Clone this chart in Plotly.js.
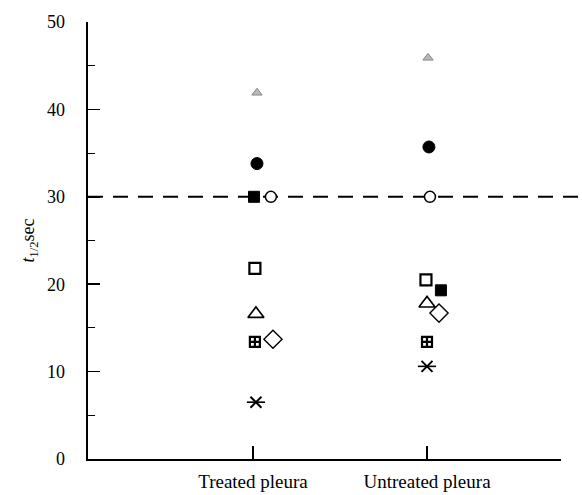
<!DOCTYPE html>
<html>
<head>
<meta charset="utf-8">
<script src="https://cdn.plot.ly/plotly-3.0.1.min.js"></script>
<style>
  html, body { margin: 0; padding: 0; background: #fff; }
  #chart { width: 582px; height: 495px; }
</style>
</head>
<body>
<div id="chart"></div>
<script>
// Half-time (t1/2, seconds) per subject, treated vs untreated pleura
const categories = ['Treated pleura', 'Untreated pleura'];
const greyTriangle = [41.9, 45.9];
const filledCircle = [33.8, 35.7];
const filledSquare = [30.0, 19.3];
const openCircle   = [30.0, 30.0];
const openSquare   = [21.8, 20.5];
const openTriangle = [16.6, 17.8];
const crossSquare  = [13.4, 13.4];
const openDiamond  = [13.7, 16.7];
const asterisk     = [6.5, 10.6];
const yTicks = [0, 10, 20, 30, 40, 50];
const threshold = 30;

// Marker styling, with a small horizontal dodge so overlapping symbols stay visible
const series = [
  { y: greyTriangle, dodge: [0.023, 0.006], symbol: 'triangle-up', size: 9, fill: '#b8b8b8', line: '#888', lw: 1 },
  { y: filledCircle, dodge: [0.023, 0.011], symbol: 'circle', size: 12, fill: '#000', line: '#000', lw: 1 },
  { y: filledSquare, dodge: [0.006, 0.080], symbol: 'square', size: 11, fill: '#000', line: '#000', lw: 1 },
  { y: openCircle,   dodge: [0.103, 0.017], symbol: 'circle', size: 11, fill: '#fff', line: '#000', lw: 1.5 },
  { y: openSquare,   dodge: [0.011, -0.006], symbol: 'square', size: 11, fill: '#fff', line: '#000', lw: 2.2 },
  { y: openTriangle, dodge: [0.017, 0.000], symbol: 'triangle-up', size: 14, fill: '#fff', line: '#000', lw: 1.6 },
  { y: crossSquare,  dodge: [0.011, 0.000], symbol: 'square-cross-open', size: 10, fill: '#000', line: '#000', lw: 2.2 },
  { y: openDiamond,  dodge: [0.115, 0.069], symbol: 'diamond', size: 14, fill: '#fff', line: '#000', lw: 1.4 },
  { y: asterisk,     dodge: [0.017, 0.000], symbol: 'x-thin-open', size: 11, fill: '#000', line: '#000', lw: 2 },
  { y: asterisk,     dodge: [0.017, 0.000], symbol: 'line-ew-open', size: 13, fill: '#000', line: '#000', lw: 1.6 }
];

const traces = series.map(s => ({
  type: 'scatter',
  mode: 'markers',
  x: s.y.map((_, i) => i + 1 + s.dodge[i]),
  y: s.y,
  showlegend: false,
  hoverinfo: 'y',
  cliponaxis: false,
  marker: {
    symbol: s.symbol,
    size: s.size,
    color: s.fill,
    line: { color: s.line, width: s.lw }
  }
}));

const serif = 'Liberation Serif, Times New Roman, serif';

const layout = {
  width: 582,
  height: 495,
  margin: { l: 88, r: 21, t: 22, b: 36 },
  paper_bgcolor: '#fff',
  plot_bgcolor: '#fff',
  font: { family: serif, color: '#000', size: 17 },
  xaxis: {
    range: [0.052, 2.77],
    tickvals: categories.map((_, i) => i + 1),
    ticktext: categories,
    ticks: 'inside',
    ticklen: 13,
    tickwidth: 1.5,
    tickcolor: '#000',
    ticklabelstandoff: 4,
    showline: true,
    linecolor: '#000',
    linewidth: 2,
    showgrid: false,
    zeroline: false,
    tickfont: { family: serif, size: 19, color: '#000' }
  },
  yaxis: {
    range: [0, 50],
    tickvals: yTicks,
    ticks: 'inside',
    ticklen: 12,
    tickwidth: 1.5,
    tickcolor: '#000',
    ticklabelstandoff: 17,
    minor: { dtick: 5, ticks: 'inside', ticklen: 7, tickwidth: 1.2, tickcolor: '#000', showgrid: false },
    showline: true,
    linecolor: '#000',
    linewidth: 2.5,
    showgrid: false,
    zeroline: false,
    tickfont: { family: serif, size: 18, color: '#000' },
    title: {
      text: '<i>t</i><sub>1/2</sub>sec',
      font: { family: serif, size: 18, color: '#000' },
      standoff: 8
    }
  },
  shapes: [{
    type: 'line',
    layer: 'below',
    xref: 'paper', yref: 'y',
    x0: 0, x1: 1.044,
    y0: threshold, y1: threshold,
    line: { color: '#000', width: 2, dash: '15px,10px' }
  }]
};

Plotly.newPlot('chart', traces, layout, { displayModeBar: false, staticPlot: true });
</script>
</body>
</html>
